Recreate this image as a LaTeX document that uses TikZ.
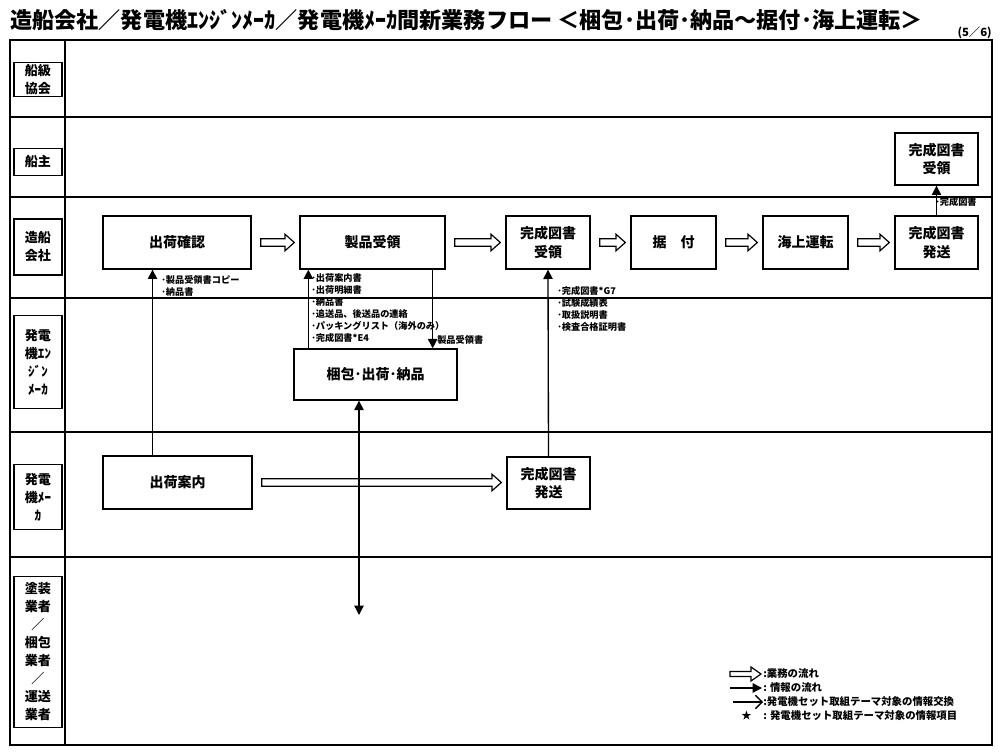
\documentclass[tikz,border=0pt]{standalone}
\usepackage{fontspec}
\setmainfont{Noto Sans CJK JP}
\usetikzlibrary{arrows.meta,calc}
\newcommand\hollowarrow[2]{%
  \draw[line width=0.9pt, fill=white] let \p1=($(#1.east)+(9,0)$), \p2=($(#2.west)+(-5,0)$) in
  (\x1,\y1+2.8pt) -- (\x2-7pt,\y1+2.8pt) -- (\x2-7pt,\y1+6.2pt) -- (\x2,\y1) --
  (\x2-7pt,\y1-6.2pt) -- (\x2-7pt,\y1-2.8pt) -- (\x1,\y1-2.8pt) -- cycle;}
\begin{document}
\begin{tikzpicture}[x=0.75pt,y=-0.75pt,
  wh/.style 2 args={minimum width=#1*0.75pt, minimum height=#2*0.75pt},
  proc/.style={draw, line width=1pt, fill=white, align=center, inner sep=0pt,
    font=\fontsize{10.5}{14}\selectfont\bfseries},
  lanebox/.style={draw, line width=0.9pt, align=center, inner sep=0pt,
    minimum width=36pt, font=\fontsize{9.8}{13.5}\selectfont\bfseries},
  info/.style={line width=1pt, -{Triangle[length=7pt,width=7pt]}},
  note/.style={anchor=west, align=left, inner sep=0pt,
    font=\fontsize{6.9}{9}\selectfont\bfseries},
  legend/.style={anchor=west, inner sep=0pt, font=\fontsize{7.8}{9}\selectfont\bfseries},
  lane/.style={line width=1pt}]

\useasboundingbox (0,0) rectangle (1000,752);

% title
\node[anchor=west, inner sep=0pt, font=\fontsize{16.6}{17}\selectfont\bfseries] (title) at (10,20)
  {造船会社／発電機ｴﾝｼﾞﾝﾒｰｶ／発電機ﾒｰｶ間新業務フロー ＜梱包･出荷･納品～据付･海上運転＞};
\node[anchor=east, inner sep=0pt, font=\fontsize{8.5}{8.5}\selectfont\bfseries] (page) at (992,33) {(5／6)};

% frame and lanes
\draw[line width=1.5pt] (10,40) rectangle (992,745);
\draw[line width=1pt] (65,40) -- (65,745);
\foreach \yy in {117,197,298,432,557} \draw[lane] (10,\yy) -- (992,\yy);

% lane labels
\node[lanebox, minimum height=26pt] (l1) at (38,79.5) {船級\\協会};
\node[lanebox, minimum height=20pt] (l2) at (38,162) {船主};
\node[lanebox, minimum height=42pt] (l3) at (38,247) {造船\\会社};
\node[lanebox, minimum height=70pt] (l4) at (38,362) {発電\\機ｴﾝ\\ｼﾞﾝ\\ﾒｰｶ};
\node[lanebox, minimum height=49pt] (l5) at (38,497) {発電\\機ﾒｰ\\ｶ};
\node[lanebox, minimum height=113pt] (l6) at (38,652) {塗装\\業者\\／\\梱包\\業者\\／\\運送\\業者};

% process boxes
\node[proc, wh={148}{53}] (kakunin) at (177,242.5) {出荷確認};
\node[proc, wh={145}{53}] (seihin) at (372.5,242.5) {製品受領};
\node[proc, wh={84}{53}] (zujuryo) at (548,242.5) {完成図書\\受領};
\node[proc, wh={85}{53}] (suetsuke) at (673.5,242.5) {据　付};
\node[proc, wh={85}{53}] (kaijo) at (805.5,242.5) {海上運転};
\node[proc, wh={83}{53}] (zuhasso) at (936.5,242.5) {完成図書\\発送};
\node[proc, wh={83}{52}] (senshu) at (936.5,159) {完成図書\\受領};
\node[proc, wh={163}{51}] (konpo) at (375.5,374.5) {梱包･出荷･納品};
\node[proc, wh={149}{53}] (annai) at (177.5,482.5) {出荷案内};
\node[proc, wh={83}{52}] (mhasso) at (548.5,483) {完成図書\\発送};

% work flow (hollow arrows)
\hollowarrow{kakunin}{seihin}
\hollowarrow{seihin}{zujuryo}
\hollowarrow{zujuryo}{suetsuke}
\hollowarrow{suetsuke}{kaijo}
\hollowarrow{kaijo}{zuhasso}
\hollowarrow{annai}{mhasso}

% information flow
\coordinate (a1) at ($(annai.north)+(-25,0)$);
\draw[info] (a1) -- (kakunin.south -| a1);
\coordinate (a2) at ($(seihin.south west)+(9,0)$);
\draw[info] (konpo.north -| a2) -- (a2);
\coordinate (a3) at ($(seihin.south east)+(-13,0)$);
\draw[info] (a3) -- (konpo.north -| a3);
\draw[info] (mhasso.north) -- (zujuryo.south);
\draw[info] (zuhasso.north) -- (senshu.south);
\coordinate (a4) at (359,615);
\draw[line width=1pt, {Triangle[length=7pt,width=7pt]}-{Triangle[length=7pt,width=7pt]}]
  (konpo.south -| a4) -- (a4);

% notes
\node[note] (n1) at (161,286) {･製品受領書コピー\\･納品書};
\node[note] (n2) at (311,308) {･出荷案内書\\･出荷明細書\\･納品書\\･追送品、後送品の連絡\\･パッキングリスト（海外のみ）\\･完成図書*E4};
\node[note] (n3) at (437,340) {製品受領書};
\node[note] (n4) at (557,309) {･完成図書*G7\\･試験成績表\\･取扱説明書\\･検査合格証明書};
\node[note] (n5) at (935,202) {･完成図書};

% legend
\draw[line width=0.9pt] (730,671.5) -- (751,671.5) -- (751,667) -- (761,674) -- (751,681) -- (751,676.5) -- (730,676.5) -- cycle;
\node[legend] (g1) at (763,674) {:業務の流れ};
\draw[info] (730,688) -- (762,688);
\node[legend] (g2) at (763,688) {: 情報の流れ};
\draw[line width=1pt, -{Straight Barb[length=5pt,width=10pt]}] (733,702) -- (763,702);
\node[legend] (g3) at (763,702) {:発電機セット取組テーマ対象の情報交換};
\node[legend] (star) at (741,716) {★};
\node[legend] (g4) at (763,716) {: 発電機セット取組テーマ対象の情報項目};
\end{tikzpicture}
\end{document}
